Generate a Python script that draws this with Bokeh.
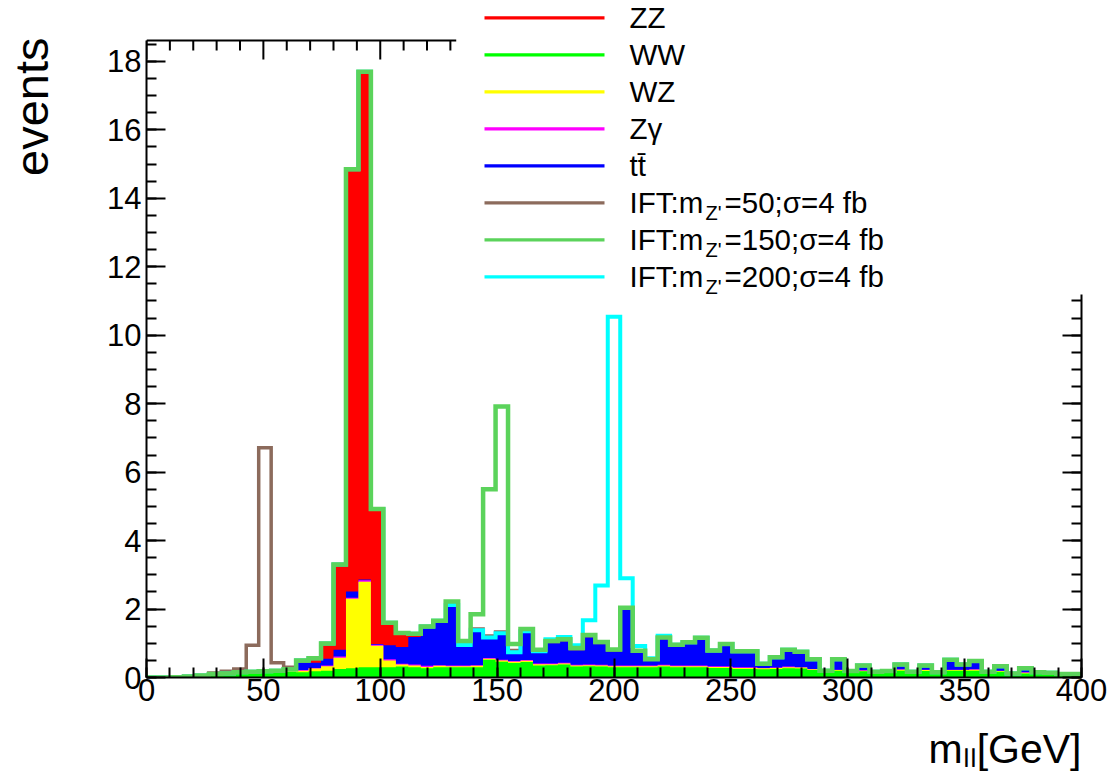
import numpy as np
from bokeh.plotting import figure
from bokeh.models import (Range1d, LinearAxis, SingleIntervalTicker, Label,
                          BoxAnnotation, CustomJSTickFormatter, Title)
from bokeh.embed import file_html
from bokeh.resources import INLINE

# ---------------- data (75 bins, 0-400 GeV) ----------------
x_min, x_max, n_bins = 0.0, 400.0, 75
y_max = 18.61

ww = [0, 0, 0.01, 0.03, 0.06, 0.09, 0.11, 0.13, 0.14, 0.15,
      0.16, 0.17, 0.15, 0.18, 0.2, 0.25, 0.27, 0.3, 0.3, 0.3,
      0.32, 0.3, 0.27, 0.3, 0.3, 0.3, 0.3, 0.52, 0.46, 0.42,
      0.45, 0.35, 0.36, 0.38, 0.32, 0.33, 0.32, 0.3, 0.3, 0.3,
      0.3, 0.32, 0.3, 0.3, 0.3, 0.28, 0.28, 0.25, 0.25, 0.24,
      0.25, 0.27, 0.26, 0.22, 0.17, 0.2, 0.16, 0.18, 0.13, 0.16,
      0.2, 0.13, 0.19, 0.12, 0.2, 0.2, 0.2, 0.13, 0.17, 0.1,
      0.12, 0.12, 0.11, 0.08, 0.08]
wz = [0, 0, 0, 0, 0, 0, 0, 0.01, 0.01, 0.01,
      0.02, 0.03, 0.05, 0.08, 0.13, 0.33, 2.03, 2.5, 0.63, 0.2,
      0.06, 0.05, 0.04, 0.04, 0.03, 0.03, 0.04, 0.03, 0.04, 0.04,
      0.04, 0.04, 0.03, 0.03, 0.03, 0.03, 0.03, 0.03, 0.03, 0.03,
      0.03, 0.03, 0.03, 0.03, 0.03, 0.03, 0.03, 0.03, 0.03, 0.03,
      0.03, 0.03, 0.03, 0.02, 0.01, 0.02, 0.01, 0.02, 0.02, 0.01,
      0.03, 0.02, 0.03, 0.01, 0.02, 0.02, 0.03, 0.02, 0.02, 0.01,
      0.02, 0.01, 0.01, 0.01, 0.01]
zg = [0, 0, 0, 0, 0, 0.01, 0.01, 0.01, 0.01, 0.01,
      0.01, 0.01, 0.02, 0.02, 0.02, 0.03, 0.03, 0.04, 0.03, 0.03,
      0.02, 0.03, 0.03, 0.02, 0.02, 0.02, 0.02, 0.02, 0.02, 0.02,
      0.02, 0.02, 0.02, 0.02, 0.02, 0.02, 0.02, 0.02, 0.02, 0.02,
      0.02, 0.02, 0.02, 0.02, 0.02, 0.02, 0.02, 0.02, 0.02, 0.01,
      0.01, 0.02, 0.01, 0.01, 0, 0.01, 0, 0.01, 0, 0,
      0.01, 0, 0.01, 0, 0.01, 0.01, 0.01, 0, 0.01, 0,
      0.01, 0, 0, 0, 0]
tt = [0, 0, 0, 0, 0, 0, 0, 0, 0, 0,
      0, 0.02, 0.2, 0.15, 0.2, 0.2, 0.18, 0.02, 0.02, 0.41,
      0.49, 0.8, 1.1, 1.27, 1.77, 0.6, 1.02, 0.6, 0.77, 0.26,
      0.84, 0.36, 0.64, 0.67, 0.47, 0.84, 0.65, 0.45, 1.67, 0.43,
      0.18, 0.8, 0.61, 0.68, 0.81, 0.46, 0.65, 0.47, 0.47, 0.12,
      0.3, 0.49, 0.45, 0.28, 0.02, 0.3, 0.02, 0.14, 0.02, 0.02,
      0.14, 0.02, 0.12, 0.02, 0.29, 0.15, 0.24, 0.02, 0.13, 0.01,
      0.12, 0.02, 0.02, 0.01, 0.01]
zz = [0, 0, 0, 0, 0, 0, 0, 0, 0.01, 0.01,
      0.01, 0.01, 0.08, 0.13, 0.44, 2.49, 12.34, 14.84, 3.94, 0.66,
      0.41, 0.1, 0.05, 0.03, 0, 0, 0, 0, 0, 0,
      0, 0, 0, 0, 0, 0, 0, 0, 0, 0,
      0, 0, 0, 0, 0, 0, 0, 0, 0, 0,
      0, 0, 0, 0, 0, 0, 0, 0, 0, 0,
      0, 0, 0, 0, 0, 0, 0, 0, 0, 0,
      0, 0, 0, 0, 0]
# signal excess over the summed background
sig50 = [0, 0, 0, 0, 0, 0.03, 0.06, 0.1, 0.77, 6.53,
         0.23, 0.06, 0, 0, 0, 0, 0, 0, 0, 0,
         0, 0, 0, 0, 0.06, 0.03, 0.04, 0.04, 0.04, 0.05,
         0.02] + [0] * 44
sig150 = [0] * 24 + [0.1, 0.12, 0.47, 4.33, 6.63, 0.24, 0.07, 0.04,
                     0.02, 0.02, 0.02, 0.02, 0.02, 0.02, 0.02] + [0] * 36
sig200 = [0] * 32 + [0.07, 0.08, 0.1, 0.45, 1.67, 9.74, 0.88, 0.14,
                     0.03, 0.05] + [0] * 33

x_major, x_minor_step = 50, 10
y_major, y_minor_n = 2, 4

# ---------------- figure ----------------
W, H = 1114, 775
FL, FR, FB = 145, 1081, 677          # frame left / right / bottom (canvas px)
FRAME_TOP_PX = 40                    # where the drawn top border sits
FONT = "Liberation Sans"
px_per_unit = (FB - FRAME_TOP_PX) / y_max
y_end = FB / px_per_unit             # frame reaches the canvas top

p = figure(width=W, height=H, x_range=Range1d(x_min, x_max), y_range=Range1d(0, y_end),
           output_backend="svg", toolbar_location=None,
           min_border_left=FL, min_border_right=W - FR,
           min_border_top=0, min_border_bottom=H - FB)
p.xgrid.visible = False
p.ygrid.visible = False
p.outline_line_color = None
p.background_fill_color = "white"
p.border_fill_color = "white"

edges = np.linspace(x_min, x_max, n_bins + 1)

stack = [(ww, "#00ff00"), (wz, "#ffff00"), (zg, "#ff00ff"), (tt, "#0000ff"), (zz, "#ff0000")]
cum = np.cumsum(np.array([s[0] for s in stack], dtype=float), axis=0)
zeros = np.zeros(n_bins + 1)
for k in reversed(range(len(stack))):
    top = np.append(cum[k], cum[k][-1])
    p.varea_step(x=edges, y1=zeros, y2=top, step_mode="after",
                 fill_color=stack[k][1], fill_alpha=1.0)

bg = cum[-1]
BROWN, GREEN2, CYAN = "#8c6b5c", "#5bd35b", "#00ffff"
for sig, col, lw in [(sig50, BROWN, 3.5), (sig200, CYAN, 4), (sig150, GREEN2, 4.5)]:
    vals = bg + np.array(sig, dtype=float)
    p.step(x=edges, y=np.append(vals, vals[-1]), mode="after",
           line_color=col, line_width=lw, line_join="miter")

# ---------------- axes ----------------
def style_axis(ax, labels=True):
    ax.axis_line_width = 2
    ax.axis_line_color = "black"
    ax.major_tick_in = 19
    ax.major_tick_out = 0
    ax.minor_tick_in = 10
    ax.minor_tick_out = 0
    ax.major_tick_line_width = 2
    ax.minor_tick_line_width = 2
    ax.major_label_text_font = FONT
    ax.major_label_text_font_size = "31px" if labels else "0px"
    ax.major_label_text_color = "black"

p.xaxis.ticker = SingleIntervalTicker(interval=x_major, num_minor_ticks=x_major // x_minor_step)
p.yaxis.ticker = SingleIntervalTicker(interval=y_major, num_minor_ticks=y_minor_n)
style_axis(p.xaxis[0])
style_axis(p.yaxis[0])
p.yaxis[0].bounds = (0, y_max)
p.xaxis[0].major_label_standoff = 1
p.yaxis[0].major_label_standoff = 5

# blank axis labels used only as spacers so that the titles sit at the outer edges
for ax, gap in ((p.yaxis[0], 36), (p.xaxis[0], 13)):
    ax.axis_label = " "
    ax.axis_label_text_font_size = "1px"
    ax.axis_label_standoff = gap

blank = CustomJSTickFormatter(code="return ''")
right_ax = LinearAxis(ticker=SingleIntervalTicker(interval=y_major, num_minor_ticks=y_minor_n),
                      formatter=blank, bounds=(0, 11.2))
style_axis(right_ax, labels=False)
p.add_layout(right_ax, "right")

# top border (partly hidden by the legend box) with inward ticks
top_end = 132.5
p.segment(x0=[x_min], y0=[y_max], x1=[top_end], y1=[y_max], line_color="black", line_width=2)
tick_x = np.arange(x_min, top_end, x_minor_step)
tick_len = np.where(tick_x % x_major == 0, 19, 10) / px_per_unit
p.segment(x0=tick_x, y0=np.full(len(tick_x), y_max), x1=tick_x, y1=y_max - tick_len,
          line_color="black", line_width=2)

# ---------------- axis titles ----------------
yt = Title(text="events", align="right", vertical_align="top", text_font=FONT,
           text_font_size="47px", text_font_style="normal", text_color="black",
           offset=37, standoff=8)
p.add_layout(yt, "left")
xt = Title(text="m\u2097\u2097[GeV]", align="right", vertical_align="bottom", text_font=FONT,
           text_font_size="41px", text_font_style="normal", text_color="black", standoff=6)
p.add_layout(xt, "below")

# ---------------- legend (screen units relative to the frame) ----------------
def sx(cx):
    return cx - FL

def sy(cy):
    return FB - cy

def label(cx, cy, text, size):
    p.add_layout(Label(x=sx(cx), y=sy(cy), x_units="screen", y_units="screen", text=text,
                       text_font=FONT, text_font_size=f"{size}px", text_color="black",
                       text_align="left", text_baseline="middle"))

entries = [("ZZ", "#ff0000", None), ("WW", "#00ff00", None), ("WZ", "#ffff00", None),
           ("Z\u03b3", "#ff00ff", None), ("tt\u0304", "#0000ff", None),
           ("IFT:m", BROWN, "=50;\u03c3=4 fb"), ("IFT:m", GREEN2, "=150;\u03c3=4 fb"),
           ("IFT:m", CYAN, "=200;\u03c3=4 fb")]
for k, (txt, col, rest) in enumerate(entries):
    ly = 17.3 + 37 * k
    p.add_layout(BoxAnnotation(left=sx(483), right=sx(603), top=sy(ly - 1.6), bottom=sy(ly + 1.6),
                               left_units="screen", right_units="screen",
                               top_units="screen", bottom_units="screen",
                               fill_color=col, fill_alpha=1.0, line_color=None))
    label(628, ly, txt, 29.5)
    if rest is not None:
        label(704, ly + 10, "Z'", 20)
        label(723, ly, rest, 29.5)

open("out.html", "w").write(file_html(p, INLINE))
